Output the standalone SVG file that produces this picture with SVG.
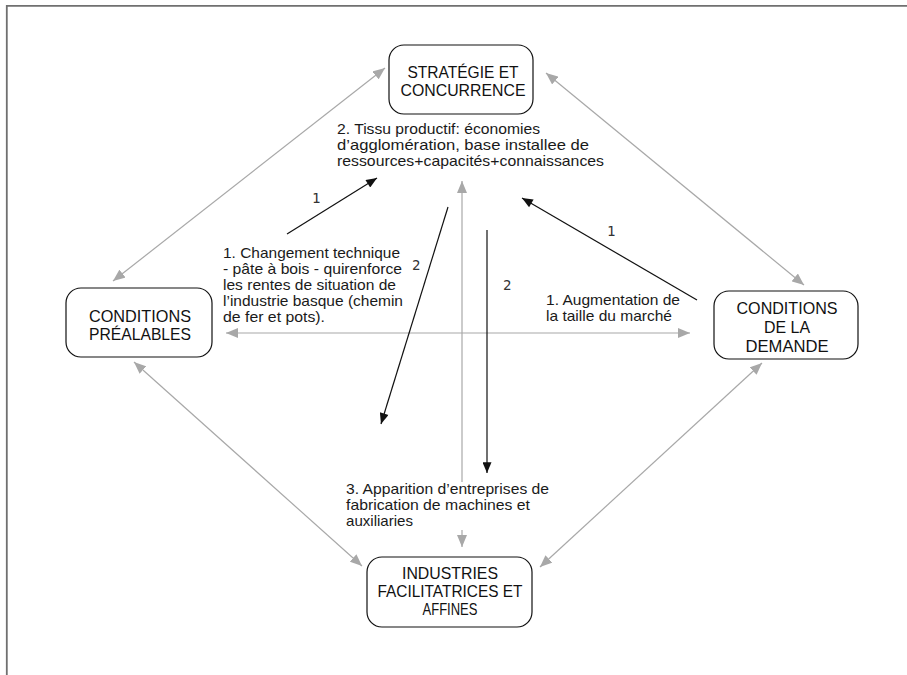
<svg xmlns="http://www.w3.org/2000/svg" width="907" height="675" viewBox="0 0 907 675">
<defs>
<style>
.frame{stroke:#707070;stroke-width:1.8;fill:none}
.box{fill:#fff;stroke:#111;stroke-width:1.2}
.nt{font-family:"Liberation Sans Narrow","Liberation Sans",Arial,sans-serif;font-size:17px;fill:#111;text-anchor:middle}
.at{font-family:"Liberation Sans",Arial,sans-serif;font-size:14.2px;fill:#1a1a1a}
.num{font-family:"DejaVu Sans Mono","Liberation Mono",monospace;font-size:14px;fill:#333}
.g{stroke:#a8a8a8;stroke-width:1.2;fill:none}
.k{stroke:#111;stroke-width:1.2;fill:none}
</style>
<marker id="ga" viewBox="0 0 12 10" refX="12" refY="5" markerWidth="12" markerHeight="10" markerUnits="userSpaceOnUse" orient="auto-start-reverse">
<path d="M0,0 L12,5 L0,10 z" fill="#a8a8a8"/>
</marker>
<marker id="ka" viewBox="0 0 12 10" refX="12" refY="5" markerWidth="12" markerHeight="9" markerUnits="userSpaceOnUse" orient="auto-start-reverse">
<path d="M0,0 L12,5 L0,10 z" fill="#111"/>
</marker>
</defs>
<rect width="907" height="675" fill="#fff"/>
<path class="frame" d="M907,5.8 H6.8 V675"/>

<g id="connectors">
<line class="g" x1="385" y1="68" x2="113" y2="281" marker-start="url(#ga)" marker-end="url(#ga)"/>
<line class="g" x1="546" y1="73" x2="804" y2="285" marker-start="url(#ga)" marker-end="url(#ga)"/>
<line class="g" x1="134" y1="362" x2="362" y2="566" marker-start="url(#ga)" marker-end="url(#ga)"/>
<line class="g" x1="540" y1="567" x2="762" y2="363" marker-start="url(#ga)" marker-end="url(#ga)"/>
<line class="g" x1="226" y1="333" x2="690" y2="333" marker-start="url(#ga)" marker-end="url(#ga)"/>
<line class="g" x1="462" y1="181" x2="462" y2="482" marker-start="url(#ga)"/>
<line class="g" x1="462" y1="530" x2="462" y2="547" marker-end="url(#ga)"/>
<line class="k" x1="287" y1="234" x2="377" y2="178" marker-end="url(#ka)"/>
<line class="k" x1="448" y1="207" x2="381" y2="424" marker-end="url(#ka)"/>
<line class="k" x1="487" y1="230" x2="487" y2="473" marker-end="url(#ka)"/>
<line class="k" x1="697" y1="300" x2="522" y2="198" marker-end="url(#ka)"/>
<text class="num" x="312" y="203">1</text>
<text class="num" x="412" y="270">2</text>
<text class="num" x="607" y="236">1</text>
<text class="num" x="503" y="290">2</text>
</g>

<g id="node-strategie">
<rect class="box" x="389" y="45" width="144" height="69" rx="15"/>
<text class="nt" x="463" y="78" textLength="111" lengthAdjust="spacingAndGlyphs">STRATÉGIE ET</text>
<text class="nt" x="463" y="96" textLength="125" lengthAdjust="spacingAndGlyphs">CONCURRENCE</text>
</g>

<g id="node-prealables">
<rect class="box" x="66" y="288" width="146" height="69" rx="15"/>
<text class="nt" x="140" y="322" textLength="102" lengthAdjust="spacingAndGlyphs">CONDITIONS</text>
<text class="nt" x="140" y="340" textLength="102" lengthAdjust="spacingAndGlyphs">PRÉALABLES</text>
</g>

<g id="node-demande">
<rect class="box" x="714" y="291" width="144" height="68" rx="15"/>
<text class="nt" x="787" y="314" textLength="101" lengthAdjust="spacingAndGlyphs">CONDITIONS</text>
<text class="nt" x="787" y="333" textLength="46" lengthAdjust="spacingAndGlyphs">DE LA</text>
<text class="nt" x="787" y="352" textLength="83" lengthAdjust="spacingAndGlyphs">DEMANDE</text>
</g>

<g id="node-industries">
<rect class="box" x="367" y="557" width="165" height="70" rx="15"/>
<text class="nt" x="450" y="579" textLength="96" lengthAdjust="spacingAndGlyphs">INDUSTRIES</text>
<text class="nt" x="450" y="597" textLength="145" lengthAdjust="spacingAndGlyphs">FACILITATRICES ET</text>
<text class="nt" x="450" y="615" textLength="55" lengthAdjust="spacingAndGlyphs">AFFINES</text>
</g>

<g id="label-tissu">
<text class="at" x="337" y="134" textLength="203" lengthAdjust="spacingAndGlyphs">2. Tissu productif: économies</text>
<text class="at" x="337" y="150" textLength="252" lengthAdjust="spacingAndGlyphs">d’agglomération, base installee de</text>
<text class="at" x="337" y="166" textLength="267" lengthAdjust="spacingAndGlyphs">ressources+capacités+connaissances</text>
</g>

<g id="label-changement">
<text class="at" x="223" y="258" textLength="177" lengthAdjust="spacingAndGlyphs">1. Changement technique</text>
<text class="at" x="223" y="274" textLength="179" lengthAdjust="spacingAndGlyphs">- pâte à bois - quirenforce</text>
<text class="at" x="223" y="290" textLength="173" lengthAdjust="spacingAndGlyphs">les rentes de situation de</text>
<text class="at" x="223" y="306" textLength="180" lengthAdjust="spacingAndGlyphs">l’industrie basque (chemin</text>
<text class="at" x="223" y="322" textLength="102" lengthAdjust="spacingAndGlyphs">de fer et pots).</text>
</g>

<g id="label-augmentation">
<text class="at" x="546" y="305" textLength="134" lengthAdjust="spacingAndGlyphs">1. Augmentation de</text>
<text class="at" x="546" y="321" textLength="126" lengthAdjust="spacingAndGlyphs">la taille du marché</text>
</g>

<g id="label-apparition">
<text class="at" x="346" y="494" textLength="203" lengthAdjust="spacingAndGlyphs">3. Apparition d’entreprises de</text>
<text class="at" x="346" y="510" textLength="184" lengthAdjust="spacingAndGlyphs">fabrication de machines et</text>
<text class="at" x="346" y="526" textLength="67" lengthAdjust="spacingAndGlyphs">auxiliaries</text>
</g>
</svg>
